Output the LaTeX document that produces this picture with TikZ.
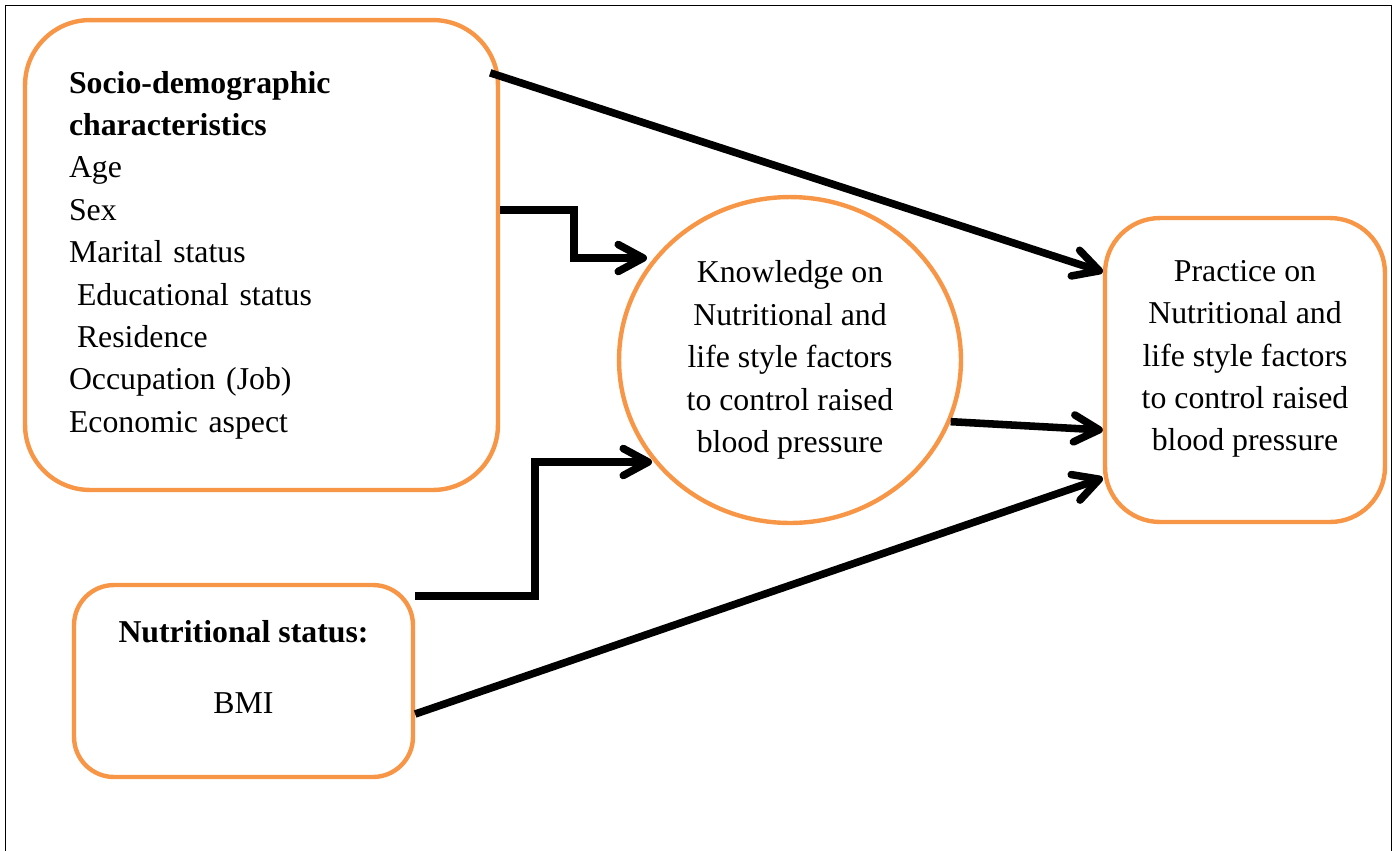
\documentclass[tikz,border=0pt]{standalone}
\usepackage{fontspec}
\setmainfont{Liberation Serif}
\usepackage{tikz}
\usetikzlibrary{shapes,arrows.meta,positioning,calc}

\definecolor{boxorange}{HTML}{F79646}

\begin{document}
\begin{tikzpicture}[
    x=0.02cm, y=-0.02cm,
    font=\fontsize{18.1}{24.1}\selectfont,
    box/.style   ={rectangle, draw=boxorange, line width=2.5pt, align=center},
    oval/.style  ={ellipse, draw=boxorange, line width=2.5pt, align=center,
                   inner sep=0pt},
    arrow/.style ={-{Straight Barb[round, length=0.5cm, width=0.54cm]},
                   line width=4.3pt, line join=miter}
]
\useasboundingbox (0,0) rectangle (1393,850);

%–––– FRAME –––––––––––––––––––––––––––––––––––––––––
\draw[line width=1.1pt] (5.5,900) -- (5.5,5.5) -- (1391.5,5.5) -- (1391.5,900);

%–––– FACTORS ––––––––––––––––––––––––––––––––––––––
\node (socio) [box, rounded corners=1.3cm, align=left,
               minimum width=9.46cm, minimum height=9.4cm,
               inner xsep=0.88cm, text width=7.7cm] at (261.5,255)
{\textbf{Socio-demographic}\\
 \textbf{characteristics}\\
 Age\\
 Sex\\
 Marital status\\
 \hspace{0.16cm}Educational status\\
 \hspace{0.16cm}Residence\\
 Occupation (Job)\\
 Economic aspect};

\node (nutr) [box, rounded corners=0.8cm,
              minimum width=6.78cm, minimum height=3.84cm,
              text depth=0.56cm] at (243.5,681)
{\textbf{Nutritional status:}\\[0.57cm]
 BMI};

%–––– KNOWLEDGE ––––––––––––––––––––––––––––––––––––
\node (knowledge) [oval, minimum width=6.84cm, minimum height=6.52cm] at (790,360)
{Knowledge on\\ Nutritional and\\ life style factors\\ to control raised\\ blood pressure};

%–––– PRACTICE –––––––––––––––––––––––––––––––––––––
\node (practice) [box, rounded corners=1.1cm,
                  minimum width=5.6cm, minimum height=6.08cm,
                  text depth=0.58cm] at (1245,370)
{Practice on\\ Nutritional and\\ life style factors\\ to control raised\\ blood pressure};

%–––– ARROWS –––––––––––––––––––––––––––––––––––––––
\coordinate (kin1) at ($(knowledge.center)+(-143,-102)$);
\coordinate (kin2) at ($(knowledge.center)+(-138,102)$);

\draw[arrow] ($(socio.north east)+(-10,55)$) -- ($(practice.west)+(0,-98)$);
\draw[arrow] ($(socio.east)+(0,-45)$) -- ++(74,0) |- (kin1);
\draw[arrow] ($(nutr.east)+(0,-85)$) -- ++(120,0) |- (kin2);
\draw[arrow] (knowledge.-21) -- ($(practice.west)+(0,60)$);
\draw[arrow] ($(nutr.east)+(0,33)$) -- ($(practice.west)+(0,108)$);
\end{tikzpicture}
\end{document}
